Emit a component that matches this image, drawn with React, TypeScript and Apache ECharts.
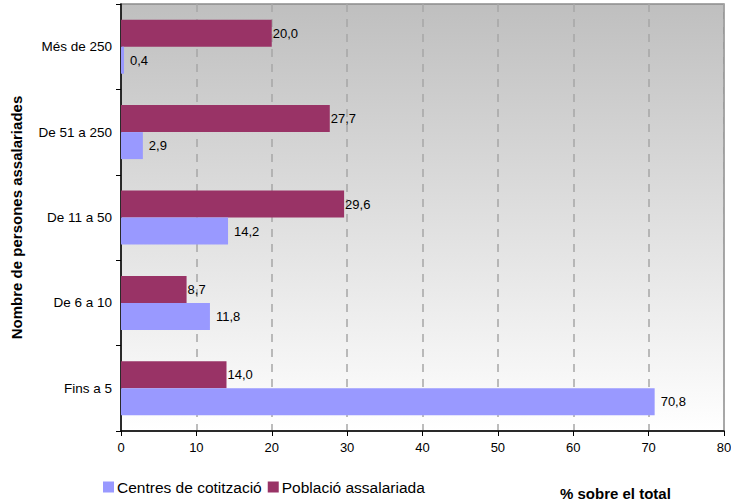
import React, { useEffect, useRef } from "react";
import * as echarts from "echarts";

const categories = ["Fins a 5", "De 6 a 10", "De 11 a 50", "De 51 a 250", "Més de 250"];
const centresValues = [70.8, 11.8, 14.2, 2.9, 0.4];
const poblacioValues = [14.0, 8.7, 29.6, 27.7, 20.0];
const seriesNames = ["Centres de cotització", "Població assalariada"];
const xTitle = "% sobre el total";
const yTitle = "Nombre de persones assalariades";

const FONT = "'Liberation Sans', Arial, sans-serif";
const fmt = (v: number) => v.toFixed(1).replace(".", ",");

export default function App() {
  const ref = useRef<HTMLDivElement>(null);
  useEffect(() => {
    if (!ref.current) return;
    const chart = echarts.init(ref.current, null, { renderer: "svg" });
    chart.setOption({
      animation: false,
      textStyle: { fontFamily: FONT, color: "#000" },
      title: {
        text: xTitle,
        left: 560,
        top: 486,
        padding: 0,
        textStyle: { fontFamily: FONT, fontSize: 15, lineHeight: 15, fontWeight: "bold", color: "#000" },
      },
      legend: {
        data: seriesNames,
        left: 98,
        top: 474,
        itemWidth: 11,
        itemHeight: 11,
        itemGap: 6,
        icon: "rect",
        textStyle: { fontFamily: FONT, fontSize: 15.5, color: "#000", padding: [0, 0, 0, -2] },
      },
      grid: {
        left: 121,
        right: 7,
        top: 4,
        bottom: 70,
        outerBoundsMode: "none",
        containLabel: false,
        show: true,
        borderColor: "#8c8c8c",
        borderWidth: 1.5,
        backgroundColor: new echarts.graphic.LinearGradient(0, 0, 0, 1, [
          { offset: 0, color: "#bfbfbf" },
          { offset: 1, color: "#ffffff" },
        ]),
      },
      xAxis: {
        type: "value",
        min: 0,
        max: 80,
        interval: 10,
        axisLine: { show: true, lineStyle: { color: "#000", width: 1.5 } },
        axisTick: { show: true, length: 5, lineStyle: { color: "#000" } },
        axisLabel: { fontFamily: FONT, fontSize: 13, color: "#000", margin: 10 },
        splitLine: { show: true, lineStyle: { color: "#a6a6a6", width: 1.5, type: [8, 7] } },
      },
      yAxis: {
        type: "category",
        data: categories,
        name: yTitle,
        nameLocation: "middle",
        nameGap: 97,
        nameTextStyle: { fontFamily: FONT, fontSize: 15, fontWeight: "bold", color: "#000" },
        axisLine: { show: true, lineStyle: { color: "#000", width: 1.5 } },
        axisTick: { show: true, length: 5, lineStyle: { color: "#000" } },
        axisLabel: { fontFamily: FONT, fontSize: 13.5, color: "#000", margin: 9 },
        splitLine: { show: false },
      },
      series: [
        {
          name: seriesNames[1],
          type: "bar",
          data: poblacioValues,
          barWidth: 27,
          barGap: "0%",
          itemStyle: { color: "#993366" },
          label: {
            show: true,
            position: "right",
            distance: 1,
            formatter: (p: any) => fmt(p.value),
            fontFamily: FONT,
            fontSize: 13,
            color: "#000",
          },
        },
        {
          name: seriesNames[0],
          type: "bar",
          data: centresValues,
          barWidth: 27,
          barGap: "0%",
          itemStyle: { color: "#9999ff" },
          label: {
            show: true,
            position: "right",
            distance: 6,
            formatter: (p: any) => fmt(p.value),
            fontFamily: FONT,
            fontSize: 13,
            color: "#000",
          },
        },
      ],
    });
    return () => chart.dispose();
  }, []);
  return <div ref={ref} style={{ width: 731, height: 501, position: "absolute", left: 0, top: 0 }} />;
}
